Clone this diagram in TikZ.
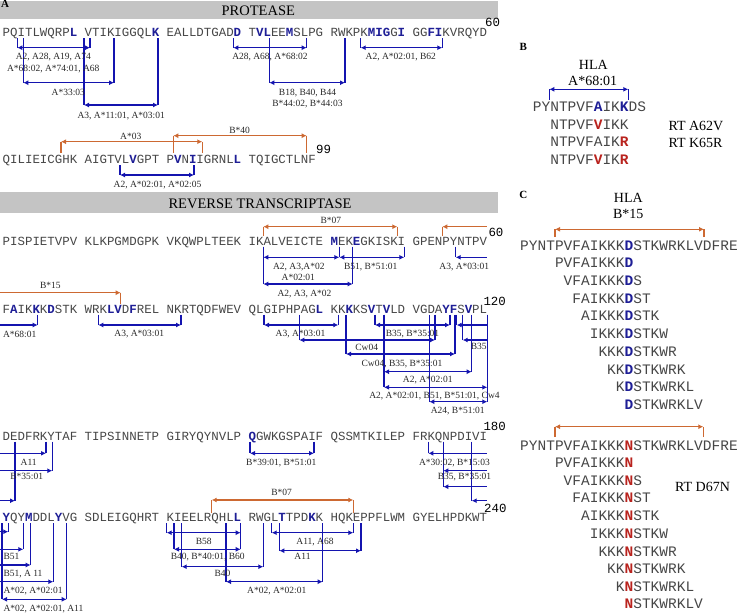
\documentclass[tikz,border=0pt]{standalone}
\usepackage{fontspec}
\setmainfont{Liberation Serif}
\newfontfamily\seqfont{Liberation Mono}
\usetikzlibrary{arrows.meta}
\definecolor{seqgray}{RGB}{70,70,70}
\definecolor{resblue}{RGB}{30,30,150}
\definecolor{epiblue}{RGB}{20,20,175}
\definecolor{epiorange}{RGB}{205,105,50}
\definecolor{resred}{RGB}{185,35,30}
\definecolor{bandgray}{RGB}{196,196,196}
\definecolor{lblgray}{RGB}{40,40,40}
% bold residues
\newcommand{\rb}[1]{{\bfseries\color{resblue}#1}}
\newcommand{\rr}[1]{{\bfseries\color{resred}#1}}
% epitope brackets: full, open to the left edge, open to the right edge
\newcommand{\epi}[5][epi]{\draw[#1] (#2,#4) -- (#2,#5) (#3,#4) -- (#3,#5); \draw[#1,<->] (#2,#5) -- (#3,#5);}
\newcommand{\epiL}[4][epi]{\draw[#1] (#2,#3) -- (#2,#4); \draw[#1,->] (0,#4) -- (#2,#4);}
\newcommand{\epiR}[4][epi]{\draw[#1] (#2,#3) -- (#2,#4); \draw[#1,<-] (#2,#4) -- (487,#4);}
\tikzset{
  seq/.style    = { font=\seqfont\fontsize{12.42}{14}\selectfont, text=seqgray, inner sep=0pt, anchor=base west },
  seqbig/.style = { font=\seqfont\fontsize{14.5}{16}\selectfont, text=seqgray, inner sep=0pt, anchor=base west },
  num/.style    = { font=\seqfont\fontsize{12.42}{14}\selectfont, text=black, inner sep=0pt, anchor=base west },
  lbl/.style    = { font=\fontsize{9.5}{11}\selectfont, text=lblgray, inner sep=0pt, text height=6.3pt, text depth=0pt },
  ttl/.style    = { font=\fontsize{14.5}{16}\selectfont, inner sep=0pt, text height=9.6pt, text depth=0pt },
  hla/.style    = { font=\fontsize{14}{16}\selectfont, inner sep=0pt, text height=9.3pt, text depth=0pt },
  note/.style   = { font=\fontsize{14}{16}\selectfont, inner sep=0pt, anchor=base west },
  panel/.style  = { font=\bfseries\fontsize{11}{13}\selectfont, inner sep=0pt, text height=7.3pt, text depth=0pt },
  band/.style   = { fill=bandgray, draw=none },
  epi/.style    = { draw=epiblue, line width=1.3pt },
  epio/.style   = { draw=epiorange, line width=1.3pt },
  >={Latex[length=5pt,width=5pt]}
}

\begin{document}
\begin{tikzpicture}[x=1pt,y=-1pt]
  \useasboundingbox (0,0) rectangle (740,613);
  % Draw header bands
  \fill[band] (0,1) rectangle (498,19);
  \fill[band] (0,191.7) rectangle (498,213.3);
  \node[ttl] (ptitle) at (258.3,10.5) {PROTEASE};
  \node[ttl] (rtitle) at (260,203.3) {REVERSE TRANSCRIPTASE};
  \node[panel] (pA) at (5,4) {A};
  \node[panel] (pB) at (523.3,46.7) {B};
  \node[panel] (pC) at (523.3,195.3) {C};
  % Draw sequences
  \node[seq] (p1) at (2.5,36.7) {PQITLWQRP\rb{L} VTIKIGGQL\rb{K} EALLDTGAD\rb{D} T\rb{VL}EE\rb{M}SLPG RWKPK\rb{MIG}G\rb{I} GG\rb{FI}KVRQYD};
  \node[seq] (p2) at (2.5,163.3) {QILIEICGHK AIGTVL\rb{V}GPT P\rb{V}N\rb{I}IGRNL\rb{L} TQIGCTLNF};
  \node[seq] (r1) at (2.5,245) {PISPIETVPV KLKPGMDGPK VKQWPLTEEK IKALVEICTE \rb{M}EK\rb{E}GKISKI GPENPYNTPV};
  \node[seq] (r2) at (2.5,313) {F\rb{A}IK\rb{K}K\rb{D}STK WRK\rb{LV}D\rb{F}REL NKRTQDFWEV QLGIPHPAG\rb{L} KK\rb{K}KS\rb{V}T\rb{V}LD VGDA\rb{YF}S\rb{V}PL};
  \node[seq] (r3) at (2.5,440) {DEDFRKYTAF TIPSINNETP GIRYQYNVLP \rb{Q}GWKGSPAIF QSSMTKILEP FRKQNPDIVI};
  \node[seq] (r4) at (2.5,521.5) {\rb{Y}QY\rb{M}DDL\rb{Y}VG SDLEIGQHRT KIEELRQHL\rb{L} RWGL\rb{T}TPD\rb{K}K HQKEPPFLWM GYELHPDKWT};
  \node[num] (n60a) at (485,26.7) {60};
  \node[num] (n99) at (316,153.3) {99};
  \node[num] (n60b) at (488.3,236) {60};
  \node[num] (n120) at (483.3,305) {120};
  \node[num] (n180) at (483.3,430) {180};
  \node[num] (n240) at (484,512.5) {240};
  % Protease epitopes
  \epi{17.3}{90}{38}{47.7}
  \epi{23.3}{114}{38}{82.7}
  \epi{84}{158}{38}{105}
  \epi{233.3}{306.7}{38}{47.7}
  \epi{269.3}{345}{38}{82.7}
  \epi{360.7}{442.3}{38}{47.7}
  \node[lbl] (l1) at (53.3,56.3) {A2, A28, A19, A74};
  \node[lbl] (l2) at (53.3,68) {A*68:02, A*74:01, A68};
  \node[lbl] (l3) at (68.3,92.7) {A*33:03};
  \node[lbl] (l4) at (121.2,115.8) {A3, A*11:01, A*03:01};
  \node[lbl] (l5) at (270,56.3) {A28, A68, A*68:02};
  \node[lbl] (l6) at (307.5,92.7) {B18, B40, B44};
  \node[lbl] (l7) at (307.5,103.7) {B*44:02, B*44:03};
  \node[lbl] (l8) at (400.8,56.3) {A2, A*02:01, B62};
  \epi[epio]{61}{202.3}{153}{141.7}
  \epi[epio]{173.3}{306.7}{153}{135.7}
  \epi{120}{194}{165}{175}
  \node[lbl] (l9) at (130.8,136) {A*03};
  \node[lbl] (l10) at (239.7,130) {B*40};
  \node[lbl] (l11) at (157.5,184) {A2, A*02:01, A*02:05};
  % RT epitopes, first row
  \epi[epio]{263.3}{397.3}{236}{226.7}
  \epiR[epio]{442.3}{236}{226.7}
  \epi{263.3}{339.3}{246.5}{257.3}
  \epi{263.3}{352.7}{246.5}{284}
  \epi{339.3}{404.3}{246.5}{257.3}
  \epiR{455.7}{246.5}{257.3}
  \node[lbl] (l12) at (330.8,220.3) {B*07};
  \node[lbl] (l13) at (298.8,266.3) {A2, A3,A*02};
  \node[lbl] (l14) at (298.3,277) {A*02:01};
  \node[lbl] (l15) at (304.5,293) {A2, A3, A*02};
  \node[lbl] (l16) at (370.8,266.3) {B51, B*51:01};
  \node[lbl] (l17) at (464.2,266.3) {A3, A*03:01};
  % RT epitopes, second row
  \epiL[epio]{120.7}{304}{292.7}
  \epiL{37.7}{314.5}{325}
  \epi{98.3}{181}{314.5}{325}
  \epi{264}{338.3}{314.5}{325}
  \epi{375}{450}{314.5}{325}
  \epiR{456.7}{314.5}{325}
  \epi{299.3}{435}{314.5}{340}
  \epiR{462.7}{314.5}{340}
  \epi{346}{455}{314.5}{354}
  \epi{384}{471.7}{314.5}{371.7}
  \epi{384}{487.3}{314.5}{387.3}
  \epi{429.3}{487.3}{314.5}{401.7}
  \node[lbl] (l18) at (50.3,285.3) {B*15};
  \node[lbl] (l19) at (19.7,334.5) {A*68:01};
  \node[lbl] (l20) at (139.2,333.3) {A3, A*03:01};
  \node[lbl] (l21) at (300.5,333.3) {A3, A*03:01};
  \node[lbl] (l22) at (412.5,333.3) {B35, B*35:01};
  \node[lbl] (l23) at (366.7,347.7) {Cw04};
  \node[lbl] (l24) at (478.7,346.7) {B35};
  \node[lbl] (l25) at (402,363) {Cw04, B35, B*35:01};
  \node[lbl] (l26) at (427.7,379.3) {A2, A*02:01};
  \node[lbl] (l27) at (434.5,395.5) {A2, A*02:01, B51, B*51:01, Cw4};
  \node[lbl] (l28) at (457.8,410.7) {A24, B*51:01};
  % RT epitopes, third row
  \epiL{46}{441.5}{453.3}
  \epiL{52.3}{441.5}{470.7}
  \epiL{15}{441.5}{500.7}
  \epi{250}{314}{441.5}{453.3}
  \epiR{428.3}{441.5}{453.3}
  \epiR{443.3}{441.5}{470.7}
  \epiR{443.3}{441.5}{486.7}
  \epiR{471.7}{441.5}{500.7}
  \node[lbl] (l29) at (28.7,462.3) {A11};
  \node[lbl] (l30) at (26.7,476.7) {B*35:01};
  \node[lbl] (l31) at (281.3,462.3) {B*39:01, B*51:01};
  \node[lbl] (l32) at (454.5,462.3) {A*30:02, B*15:03};
  \node[lbl] (l33) at (464.5,476.7) {B35, B*35:01};
  % RT epitopes, fourth row
  \epi[epio]{211.7}{353.3}{512.5}{500}
  \epiL{8.3}{523}{531.7}
  \epiL{23.3}{523}{549.3}
  \epiL{30.7}{523}{565}
  \epiL{53.3}{523}{581.7}
  \epi{2}{66.7}{523}{599.3}
  \epi{166.7}{240.7}{523}{532.7}
  \epi{174}{240.7}{523}{549.3}
  \epi{181.7}{263.3}{523}{566.7}
  \epi{226}{322.7}{523}{581.7}
  \epi{271.7}{353.3}{523}{532.7}
  \epi{279.3}{361}{523}{550.7}
  \node[lbl] (l34) at (281.7,492.7) {B*07};
  \node[lbl,anchor=west] (l35) at (3.3,556.7) {B51};
  \node[lbl,anchor=west] (l36) at (3.3,573.3) {B51, A 11};
  \node[lbl,anchor=west] (l37) at (3.3,590) {A*02, A*02:01};
  \node[lbl,anchor=west] (l38) at (3.3,608.3) {A*02, A*02:01, A11};
  \node[lbl] (l39) at (203.8,541.7) {B58};
  \node[lbl] (l40) at (207.7,556.7) {B40, B*40:01, B60};
  \node[lbl] (l41) at (222.5,573.3) {B40};
  \node[lbl] (l42) at (276.7,590) {A*02, A*02:01};
  \node[lbl] (l43) at (315,541.7) {A11, A68};
  \node[lbl] (l44) at (302.5,556.7) {A11};
  % Panel B
  \node[hla] (bhla) at (593.3,64.5) {HLA};
  \node[hla] (ballele) at (592.7,81.3) {A*68:01};
  \epi{549.3}{628.3}{100}{89.3}
  \node[seqbig] (b0) at (532.7,111.7) {PYNTPVF\rb{A}IK\rb{K}DS};
  \node[seqbig] (b1) at (550.1,129.2) {NTPVF\rr{V}IKK};
  \node[seqbig] (b2) at (550.1,146.8) {NTPVFAIK\rr{R}};
  \node[seqbig] (b3) at (550.1,164.2) {NTPVF\rr{V}IK\rr{R}};
  \node[note] (bm1) at (668.3,130) {RT A62V};
  \node[note] (bm2) at (668.3,147.3) {RT K65R};
  % Panel C
  \node[hla] (chla) at (628.3,198.3) {HLA};
  \node[hla] (callele) at (628.3,213.8) {B*15};
  \epi[epio]{555}{704}{237}{229.3}
  \node[seqbig] (c0) at (520,250) {PYNTPVFAIKKK\rb{D}STKWRKLVDFRE};
  \node[seqbig] (c1) at (554.8,267.7) {PVFAIKKK\rb{D}};
  \node[seqbig] (c2) at (563.5,285.3) {VFAIKKK\rb{D}S};
  \node[seqbig] (c3) at (572.2,303.3) {FAIKKK\rb{D}ST};
  \node[seqbig] (c4) at (580.9,320.7) {AIKKK\rb{D}STK};
  \node[seqbig] (c5) at (589.6,338.3) {IKKK\rb{D}STKW};
  \node[seqbig] (c6) at (598.3,356.7) {KKK\rb{D}STKWR};
  \node[seqbig] (c7) at (607,374) {KK\rb{D}STKWRK};
  \node[seqbig] (c8) at (615.7,391.7) {K\rb{D}STKWRKL};
  \node[seqbig] (c9) at (624.4,409) {\rb{D}STKWRKLV};
  \epi[epio]{555}{703.3}{437}{426.7}
  \node[seqbig] (d0) at (520,450) {PYNTPVFAIKKK\rr{N}STKWRKLVDFRE};
  \node[seqbig] (d1) at (554.8,467.3) {PVFAIKKK\rr{N}};
  \node[seqbig] (d2) at (563.5,485) {VFAIKKK\rr{N}S};
  \node[seqbig] (d3) at (572.2,502.7) {FAIKKK\rr{N}ST};
  \node[seqbig] (d4) at (580.9,520) {AIKKK\rr{N}STK};
  \node[seqbig] (d5) at (589.6,538.3) {IKKK\rr{N}STKW};
  \node[seqbig] (d6) at (598.3,556) {KKK\rr{N}STKWR};
  \node[seqbig] (d7) at (607,573.3) {KK\rr{N}STKWRK};
  \node[seqbig] (d8) at (615.7,591) {K\rr{N}STKWRKL};
  \node[seqbig] (d9) at (624.4,608.3) {\rr{N}STKWRKLV};
  \node[note] (cm1) at (675,491.7) {RT D67N};
\end{tikzpicture}
\end{document}
